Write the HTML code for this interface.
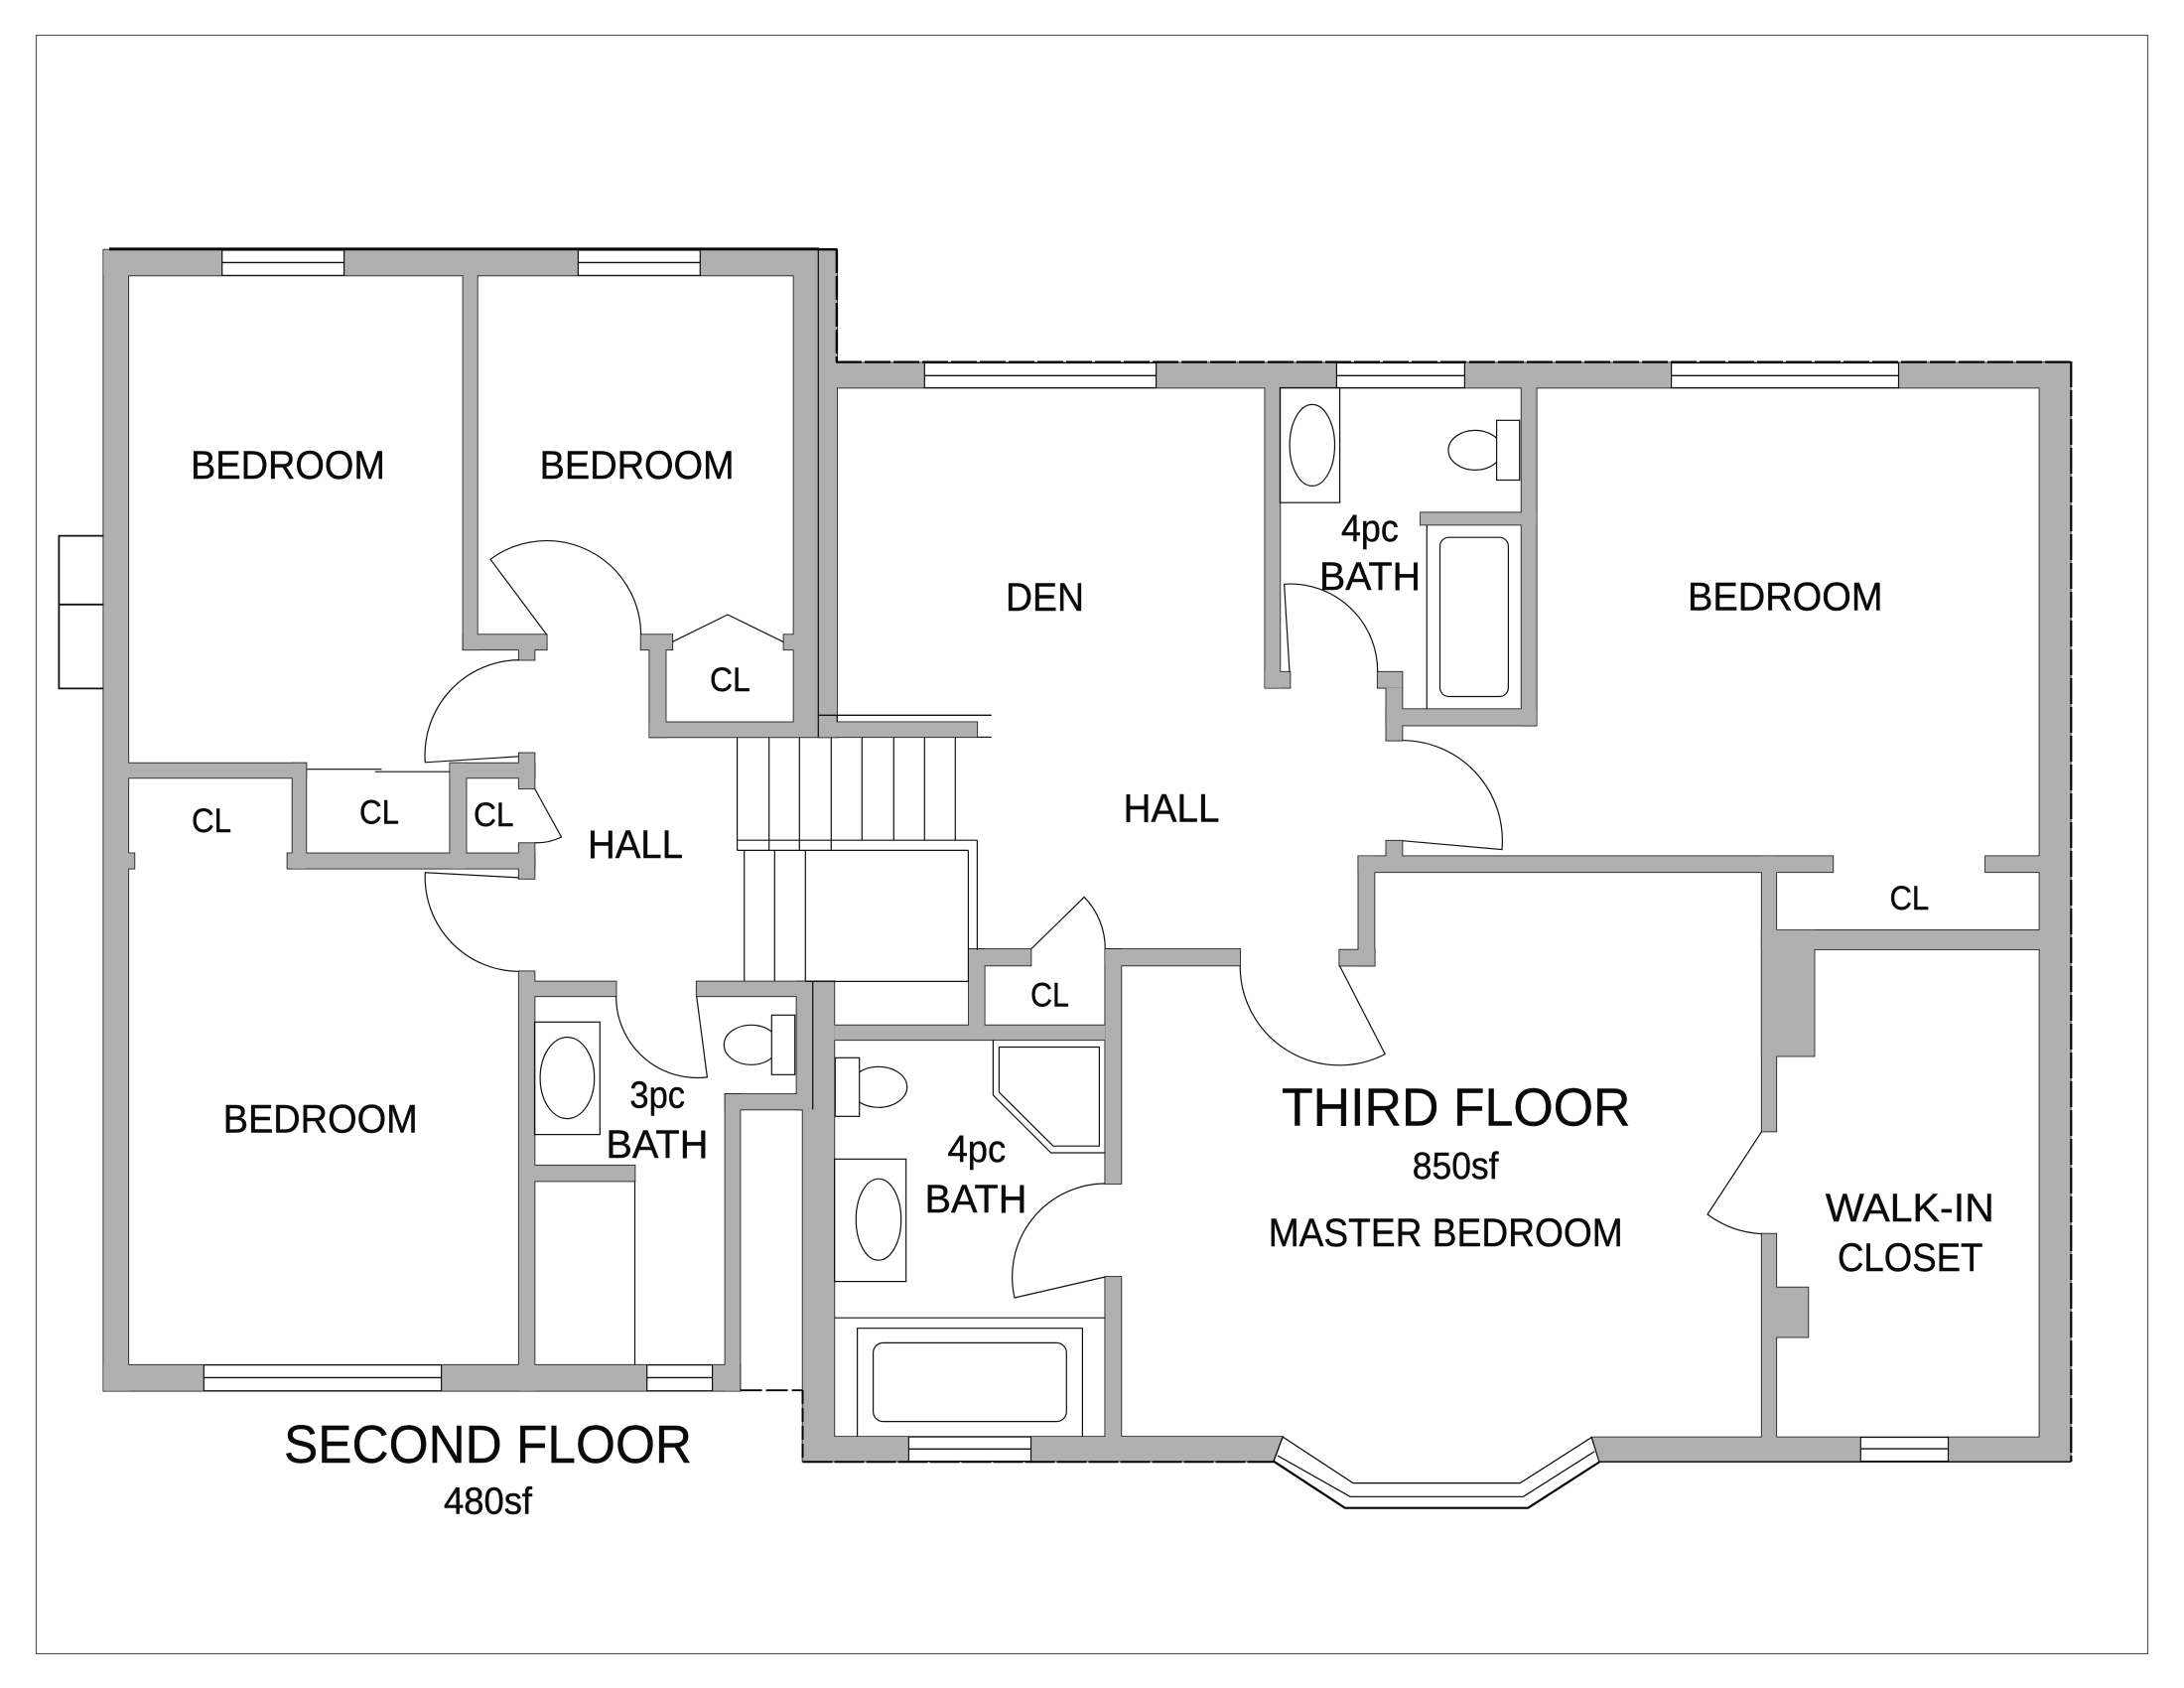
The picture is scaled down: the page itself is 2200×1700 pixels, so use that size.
<!DOCTYPE html>
<html><head><meta charset="utf-8"><title>Floor plan</title>
<style>
html,body{margin:0;padding:0;background:#fff}
svg{display:block}
text{font-family:"Liberation Sans",sans-serif;fill:#0a0a0a;stroke:#0a0a0a;stroke-width:.4}
</style></head><body>
<svg width="2200" height="1700" viewBox="0 0 2200 1700" xmlns="http://www.w3.org/2000/svg">
<rect x="0" y="0" width="2200" height="1700" fill="#fff"/>
<rect x="36.5" y="35.5" width="2127" height="1630" fill="none" stroke="#555" stroke-width="1.2"/>
<defs>
<g id="w">
<rect x="104.3" y="251.7" width="720.4" height="25.7"/>
<rect x="104.3" y="251.7" width="25" height="1149"/>
<rect x="466.5" y="277" width="14.3" height="377.3"/>
<rect x="466.5" y="639.2" width="84.2" height="15.1"/>
<rect x="522.7" y="654" width="15.8" height="10.6"/>
<rect x="645.6" y="639.2" width="31.7" height="15.1"/>
<rect x="654.3" y="654" width="16.3" height="88.4"/>
<rect x="654.3" y="727.4" width="189" height="15"/>
<rect x="789.5" y="639.2" width="10.2" height="15.1"/>
<rect x="799.5" y="277" width="25" height="465"/>
<rect x="129" y="768.6" width="179.4" height="14.8"/>
<rect x="294.6" y="768.6" width="13.8" height="106.1"/>
<rect x="289.5" y="859.4" width="249" height="15.3"/>
<rect x="129" y="859.4" width="6.4" height="15.3"/>
<rect x="453.3" y="768.6" width="16.3" height="106.1"/>
<rect x="453.3" y="768.6" width="85.2" height="14.8"/>
<rect x="522.7" y="758.4" width="15.8" height="35.6"/>
<rect x="522.7" y="849.2" width="15.8" height="35.7"/>
<rect x="522.7" y="978.3" width="15.8" height="422.4"/>
<rect x="538" y="988.5" width="82.6" height="14.8"/>
<rect x="701.7" y="988.5" width="117" height="14.8"/>
<rect x="802.5" y="988.5" width="16.2" height="129"/>
<rect x="730.5" y="1102" width="88.2" height="15.4"/>
<rect x="730.5" y="1102" width="15" height="298.7"/>
<rect x="538" y="1173.7" width="101.5" height="15.8"/>
<rect x="104.3" y="1374.7" width="641.2" height="26"/>
<rect x="818.7" y="988.3" width="21.7" height="129.3"/>
<rect x="808.6" y="1117.4" width="31.8" height="354.2"/>
<polygon points="808.6,1447 1292,1447 1282.8,1471.6 808.6,1471.6"/>
<rect x="840.4" y="1032.6" width="272.9" height="14.7"/>
<rect x="976" y="956" width="15.7" height="91"/>
<rect x="976" y="956" width="62.5" height="16.4"/>
<rect x="1113.3" y="956" width="16.1" height="236"/>
<rect x="1113.3" y="956" width="135.9" height="16.4"/>
<rect x="1113.3" y="1286" width="16.1" height="161.1"/>
<rect x="1349.3" y="956.6" width="35.4" height="16"/>
<rect x="1368.4" y="862.3" width="16.1" height="110"/>
<rect x="1368.4" y="862.3" width="478" height="16"/>
<rect x="1396.4" y="846.7" width="16.1" height="31.3"/>
<rect x="1396.4" y="692.7" width="16.1" height="53"/>
<rect x="1387.7" y="676.7" width="24.8" height="16"/>
<rect x="1396.4" y="714.2" width="151.3" height="16.4"/>
<rect x="1532.6" y="390" width="15.1" height="340.6"/>
<rect x="1431" y="516.3" width="116.7" height="12.2"/>
<rect x="824.3" y="365.3" width="1261.4" height="25.2"/>
<rect x="824.3" y="252" width="18.8" height="468.3"/>
<rect x="824.3" y="720.3" width="4" height="22"/>
<rect x="824.3" y="727.3" width="160" height="15"/>
<rect x="1274.3" y="390" width="15.1" height="302.7"/>
<rect x="1274.3" y="676.7" width="25.2" height="16"/>
<rect x="2054.5" y="365" width="31.2" height="1106.6"/>
<polygon points="1603.4,1447.5 2085.7,1447.5 2085.7,1471.6 1611,1471.6"/>
<rect x="2000" y="862.3" width="54.5" height="16"/>
<rect x="1774.7" y="862.3" width="14.6" height="277.2"/>
<rect x="1774.7" y="936.8" width="279.8" height="19.2"/>
<rect x="1774.7" y="936.8" width="52.9" height="126.8"/>
<rect x="1774.7" y="1242.6" width="14.6" height="204.9"/>
<rect x="1789" y="1296.6" width="32.4" height="50"/>
</g>
</defs>
<use href="#w" fill="#111" stroke="#111" stroke-width="1.6"/>
<use href="#w" fill="#b0b0b0"/>
<rect x="824.3" y="720.3" width="18.8" height="22" fill="#b0b0b0"/>
<path d="M824.3 720.3H998.8" stroke="#111" stroke-width="1.3" fill="none"/>
<path d="M843.3 720.3V727.3" stroke="#111" stroke-width="1.3" fill="none"/>

<!-- shared wall seams -->
<g stroke="#111" stroke-width="1.3" fill="none">
<path d="M824.3 252V742.3"/>
<path d="M818.7 988.3V1117.4"/>
</g>

<!-- windows -->
<g fill="#fff" stroke="#111" stroke-width="1.2">
<rect x="223.7" y="252" width="122.9" height="25.4"/>
<rect x="582.4" y="252" width="122.9" height="25.4"/>
<rect x="205.3" y="1374.7" width="239.3" height="26"/>
<rect x="651.7" y="1374.7" width="65.9" height="26"/>
<rect x="931.3" y="365.5" width="233.3" height="25"/>
<rect x="1346.4" y="365.5" width="129" height="25"/>
<rect x="1683.6" y="365.5" width="228.9" height="25"/>
<rect x="915.4" y="1447.1" width="123.1" height="24.5"/>
<rect x="1874.3" y="1447.5" width="88.2" height="24.1"/>
</g>
<g stroke="#111" stroke-width="1.4" fill="none">
<path d="M223.7 264.4H346.6M582.4 264.4H705.3M205.3 1387.4H444.6M651.7 1387.4H717.6M931.3 378.3H1164.6M1346.4 378.3H1475.4M1683.6 378.3H1912.5M915.4 1459.3H1038.5M1874.3 1459.1H1962.5"/>
</g>

<!-- exterior heavy lines -->
<g stroke="#000" fill="none">
<path d="M110 250.8H825" stroke-width="2.8"/>
<path d="M825 251.2H843.4" stroke-width="2.4"/>
<path d="M842.9 251V364.6" stroke-width="2.4" stroke-dasharray="24 3"/>
<path d="M842 364.6H2087" stroke-width="2.2" stroke-dasharray="26 3"/>
<path d="M2086.3 364V1472" stroke-width="2.2" stroke-dasharray="26 3"/>
<path d="M808.5 1472.2H1283" stroke-width="2" stroke-dasharray="30 2"/>
<path d="M808.5 1400V1472" stroke-width="2" stroke-dasharray="14 4"/>
<path d="M745.6 1400.2H808.5" stroke-width="1.8" stroke-dasharray="22 4"/>
<path d="M1611 1472.2H2086" stroke-width="1.4"/>
<path d="M1282.8 1471.6L1354.8 1518.7H1539.2L1611 1472.5" stroke-width="2.2"/>
<path d="M1287 1466L1360 1507.3H1534.5L1606.2 1461.8" stroke-width="1.2"/>
<path d="M1292 1447L1363 1493.6H1531.2L1603.4 1447.5" stroke-width="1.2"/>
<path d="M1292 1447L1282.8 1471.6M1603.4 1447.5L1611 1472.5" stroke-width="1"/>
</g>

<!-- chimney -->
<g fill="none" stroke="#111" stroke-width="1.8">
<path d="M104.3 539.6H59.4V693.4H104.3M59.4 608.8H104.3"/>
</g>

<!-- thin detail lines -->
<g fill="none" stroke="#111" stroke-width="1.2">
<!-- closet sliders -->
<path d="M308.4 774.7H384.4M377.8 777.2H453.3"/>
<!-- closet bifold -->
<path d="M677.3 646.4L733 619L789.5 646.7"/>
<!-- stairs -->
<path d="M742.6 742.4V856.4M774.7 742.4V856.4M805.3 742.4V856.4M837.3 742.4V856.4M868.3 742.4V846.2M900.3 742.4V846.2M931.3 742.4V846.2M962.3 742.4V846.2"/>
<path d="M742.6 846.2H984.4M742.6 856.4H975.4"/>
<path d="M749.7 856.4V988.5M780.3 856.4V988.5M811.3 856.4V988.5"/>
<path d="M975.4 856.4V988.4M984.4 846.2V956.6M811.3 988.4H976"/>
<path d="M984.3 742.4H998.8"/>
<!-- doors -->
<path d="M522.7 761.8L428.3 767.8A96 96 0 0 1 522.7 664.6"/>
<path d="M550.7 639.2L494 563.3A95 95 0 0 1 645.6 639.2"/>
<path d="M538.5 794L565.5 843A55 55 0 0 1 538.5 848.7"/>
<path d="M522.7 883.9L428.3 878.8A95 95 0 0 0 522.7 978.3"/>
<path d="M701.7 1003.3L712.4 1084.9A82 82 0 0 1 620.6 1003.3"/>
<path d="M1299 676.7L1293.6 588.3A88 88 0 0 1 1387.7 676.7"/>
<path d="M1412.5 846.7L1513 855.6A101 101 0 0 0 1412.5 745.7"/>
<path d="M1349.3 972.4L1395.2 1061.6A100 100 0 0 1 1249.2 972.4"/>
<path d="M1038.5 956L1092.2 903.4A75 75 0 0 1 1113.3 956"/>
<path d="M1113.3 1286L1022 1307A94 94 0 0 1 1113.3 1192"/>
<path d="M1774.7 1139.5L1720 1223A100 100 0 0 0 1774.7 1242.6"/>
<!-- partition -->
<path d="M639.5 1189.5V1374.7"/>
<!-- second floor bath fixtures -->
<rect x="538.5" y="1029.3" width="65.8" height="113.3"/>
<ellipse cx="571.4" cy="1085.6" rx="27.3" ry="41"/>
<ellipse cx="756.7" cy="1052.3" rx="27.4" ry="20"/>
<rect x="777.3" y="1022.3" width="23.4" height="60" fill="#fff"/>
<!-- third bath upper -->
<rect x="1289.4" y="390.5" width="60.2" height="115.7"/>
<ellipse cx="1321.8" cy="448.4" rx="22.7" ry="41"/>
<ellipse cx="1486" cy="453.4" rx="27" ry="20"/>
<rect x="1507.6" y="423.3" width="23.1" height="60.2" fill="#fff"/>
<path d="M1437.3 528.5V714.2"/>
<rect x="1450.5" y="541.2" width="68.9" height="160.3" rx="9"/>
<!-- third bath lower -->
<ellipse cx="885" cy="1094.8" rx="28.7" ry="20.5"/>
<rect x="841.3" y="1065.3" width="24.4" height="59" fill="#fff"/>
<rect x="840.6" y="1167.3" width="72.1" height="123.3"/>
<ellipse cx="885" cy="1228.2" rx="22.7" ry="41"/>
<path d="M1000.4 1047.3V1102.9L1058.7 1161H1113.3"/>
<path d="M1006.4 1054.5H1107.4V1154.2H1061L1006.4 1100Z"/>
<path d="M840.6 1327.2H1113.3"/>
<path d="M863.6 1447V1337.7H1090.4V1447"/>
<rect x="879.6" y="1352.4" width="194.7" height="79.2" rx="10"/>
</g>

<!-- labels -->
<g font-size="40">
<text x="192" y="481.9" textLength="196" lengthAdjust="spacingAndGlyphs">BEDROOM</text>
<text x="543.6" y="481.9" textLength="196" lengthAdjust="spacingAndGlyphs">BEDROOM</text>
<text x="224.7" y="1140.5" textLength="196" lengthAdjust="spacingAndGlyphs">BEDROOM</text>
<text x="1700" y="614.4" textLength="196.5" lengthAdjust="spacingAndGlyphs">BEDROOM</text>
<text x="592" y="864" textLength="96" lengthAdjust="spacingAndGlyphs">HALL</text>
<text x="1131.5" y="827.4" textLength="97" lengthAdjust="spacingAndGlyphs">HALL</text>
<text x="1013" y="614.8" textLength="79" lengthAdjust="spacingAndGlyphs">DEN</text>
<text x="610.4" y="1166" textLength="103" lengthAdjust="spacingAndGlyphs">BATH</text>
<text x="1329" y="594" textLength="102" lengthAdjust="spacingAndGlyphs">BATH</text>
<text x="931.5" y="1221.1" textLength="103" lengthAdjust="spacingAndGlyphs">BATH</text>
<text x="1838.9" y="1230" textLength="170" lengthAdjust="spacingAndGlyphs">WALK-IN</text>
<text x="1851" y="1280" textLength="146.4" lengthAdjust="spacingAndGlyphs">CLOSET</text>
<text x="1277.7" y="1255" textLength="357" lengthAdjust="spacingAndGlyphs">MASTER BEDROOM</text>
</g>
<g font-size="34">
<text x="715" y="695.8" textLength="40.8" lengthAdjust="spacingAndGlyphs">CL</text>
<text x="193" y="838" textLength="40" lengthAdjust="spacingAndGlyphs">CL</text>
<text x="362" y="829.3" textLength="40" lengthAdjust="spacingAndGlyphs">CL</text>
<text x="477" y="831.8" textLength="40.6" lengthAdjust="spacingAndGlyphs">CL</text>
<text x="1038" y="1013.6" textLength="39" lengthAdjust="spacingAndGlyphs">CL</text>
<text x="1903.5" y="916.2" textLength="39.7" lengthAdjust="spacingAndGlyphs">CL</text>
</g>
<g font-size="38">
<text x="634.4" y="1115.5" textLength="55.6" lengthAdjust="spacingAndGlyphs">3pc</text>
<text x="1351" y="545" textLength="57.8" lengthAdjust="spacingAndGlyphs">4pc</text>
<text x="954.5" y="1170.2" textLength="58.7" lengthAdjust="spacingAndGlyphs">4pc</text>
<text x="447" y="1524.7" textLength="89" lengthAdjust="spacingAndGlyphs">480sf</text>
<text x="1422.8" y="1187.2" textLength="86.7" lengthAdjust="spacingAndGlyphs">850sf</text>
</g>
<g font-size="54">
<text x="286" y="1473" textLength="411" lengthAdjust="spacingAndGlyphs">SECOND FLOOR</text>
<text x="1291" y="1133.6" textLength="351.5" lengthAdjust="spacingAndGlyphs">THIRD FLOOR</text>
</g>
</svg>
</body></html>
